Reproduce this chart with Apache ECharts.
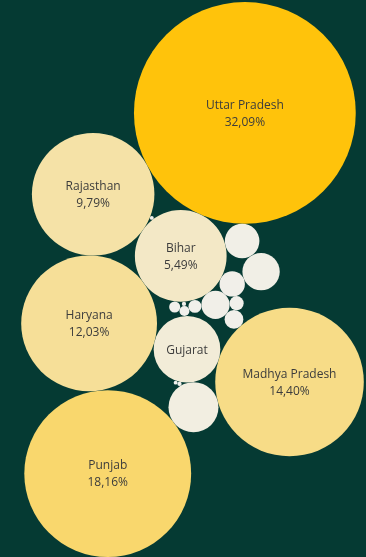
<!DOCTYPE html>
<html>
<head>
<meta charset="utf-8">
<script src="https://cdn.jsdelivr.net/npm/echarts@6/dist/echarts.min.js"></script>
<style>
  html, body { margin: 0; padding: 0; background: #053a33; }
  #chart { width: 366px; height: 557px; }
</style>
</head>
<body>
<div id="chart"></div>
<script>
// Share of national wheat production by state (%)
const states = [
  'Uttar Pradesh', 'Punjab', 'Madhya Pradesh', 'Haryana', 'Rajasthan', 'Bihar', 'Gujarat',
  'Maharashtra', 'Uttarakhand', 'Himachal Pradesh', 'West Bengal', 'Jammu and Kashmir',
  'Jharkhand', 'Karnataka', 'Assam', 'Chhattisgarh', 'Delhi',
  'Odisha', 'Nagaland', 'Sikkim', 'Arunachal Pradesh'
];
const shares = [
  32.09, 18.16, 14.40, 12.03, 9.79, 5.49, 2.90,
  1.63, 0.91, 0.78, 0.52, 0.42,
  0.23, 0.13, 0.11, 0.08, 0.065,
  0.01, 0.012, 0.012, 0.01
];
// states whose bubble carries the name only / name and share
const nameOnly = ['Gujarat'];
const nameAndShare = ['Uttar Pradesh', 'Punjab', 'Madhya Pradesh', 'Haryana', 'Rajasthan', 'Bihar'];

// ---- packed-bubble layout: bubble area proportional to share ----
const R = {};
states.forEach((s, i) => { R[s] = Math.sqrt(shares[i]); });
const P = {};

// put `name` tangent to bubbles a and b (plus an optional gap to b),
// on the given side of the a->b direction
function place(name, a, b, side, gapB) {
  const A = P[a], B = P[b], r = R[name];
  const da = R[a] + r, db = R[b] + r + (gapB || 0);
  const dx = B.x - A.x, dy = B.y - A.y, d = Math.hypot(dx, dy);
  const ux = dx / d, uy = dy / d;
  const t = (da * da - db * db + d * d) / (2 * d);
  const h = Math.sqrt(Math.max(0, da * da - t * t));
  const s = side === 'left' ? 1 : -1;
  P[name] = { x: A.x + ux * t - s * uy * h, y: A.y + uy * t + s * ux * h };
}

// first pair: Rajasthan sits just above Haryana, leaning slightly east
const tilt = 1.8 * Math.PI / 180;
const d0 = R['Haryana'] + R['Rajasthan'];
P['Haryana'] = { x: 0, y: 0 };
P['Rajasthan'] = { x: d0 * Math.sin(tilt), y: d0 * Math.cos(tilt) };
place('Bihar', 'Haryana', 'Rajasthan', 'right');
place('Uttar Pradesh', 'Rajasthan', 'Bihar', 'left');
place('Himachal Pradesh', 'Bihar', 'Uttar Pradesh', 'right');
// Gujarat hangs under Bihar with Nagaland and Delhi stacked in between
place('Gujarat', 'Haryana', 'Bihar', 'right', 2 * (R['Delhi'] + R['Nagaland']));
place('Nagaland', 'Bihar', 'Gujarat', 'left', 2 * R['Delhi']);
place('Delhi', 'Gujarat', 'Nagaland', 'left');
place('Chhattisgarh', 'Delhi', 'Bihar', 'left');
place('Assam', 'Delhi', 'Bihar', 'right');
place('West Bengal', 'Bihar', 'Assam', 'left');
place('Jammu and Kashmir', 'Bihar', 'West Bengal', 'left');
place('Uttarakhand', 'Himachal Pradesh', 'Jammu and Kashmir', 'left');
place('Karnataka', 'West Bengal', 'Jammu and Kashmir', 'right');
place('Jharkhand', 'West Bengal', 'Karnataka', 'right');
place('Madhya Pradesh', 'Gujarat', 'Jharkhand', 'right');
place('Maharashtra', 'Gujarat', 'Madhya Pradesh', 'right');
place('Punjab', 'Haryana', 'Maharashtra', 'right');
place('Odisha', 'Rajasthan', 'Bihar', 'left');
place('Sikkim', 'Gujarat', 'Maharashtra', 'right');
place('Arunachal Pradesh', 'Gujarat', 'Sikkim', 'right');

const data = states.map((s, i) => [P[s].x, P[s].y, R[s], shares[i], i]);

// extent of the packed layout
let x0 = Infinity, x1 = -Infinity, y0 = Infinity, y1 = -Infinity;
data.forEach(d => {
  x0 = Math.min(x0, d[0] - d[2]); x1 = Math.max(x1, d[0] + d[2]);
  y0 = Math.min(y0, d[1] - d[2]); y1 = Math.max(y1, d[1] + d[2]);
});

const W = 366, H = 557;
const grid = { left: 19, right: 0, top: 2, bottom: 0 };
const gw = W - grid.left - grid.right, gh = H - grid.top - grid.bottom;
const ppu = Math.min(gw / (x1 - x0), gh / (y1 - y0));
const cx = (x0 + x1) / 2, cy = (y0 + y1) / 2;
const hx = gw / ppu / 2, hy = gh / ppu / 2;

const fmt = v => v.toFixed(2).replace('.', ',') + '%';

const chart = echarts.init(document.getElementById('chart'));
chart.setOption({
  backgroundColor: '#053a33',
  animation: false,
  grid: grid,
  xAxis: { type: 'value', min: cx - hx, max: cx + hx, show: false },
  yAxis: { type: 'value', min: cy - hy, max: cy + hy, show: false },
  visualMap: {
    type: 'continuous', show: false, dimension: 3, seriesIndex: 0,
    min: 0, max: Math.max(...shares),
    inRange: { color: ['#f1f0ec', '#ffc30b'] }
  },
  series: [{
    type: 'custom',
    coordinateSystem: 'cartesian2d',
    clip: false,
    data: data,
    renderItem: function (params, api) {
      const c = api.coord([api.value(0), api.value(1)]);
      const rr = api.size([api.value(2), 0])[0];
      const name = states[api.value(4)];
      const children = [{
        type: 'circle',
        shape: { cx: c[0], cy: c[1], r: rr },
        style: { fill: api.visual('color') }
      }];
      let text = null;
      if (nameAndShare.indexOf(name) >= 0) text = name + '\n' + fmt(api.value(3));
      else if (nameOnly.indexOf(name) >= 0) text = name;
      if (text) {
        children.push({
          type: 'text',
          x: c[0], y: c[1] + 1,
          style: {
            text: text, align: 'center', verticalAlign: 'middle',
            fill: '#3c3c3c', font: '12px "Open Sans", sans-serif', lineHeight: 17
          }
        });
      }
      return { type: 'group', children: children };
    }
  }]
});
</script>
</body>
</html>
